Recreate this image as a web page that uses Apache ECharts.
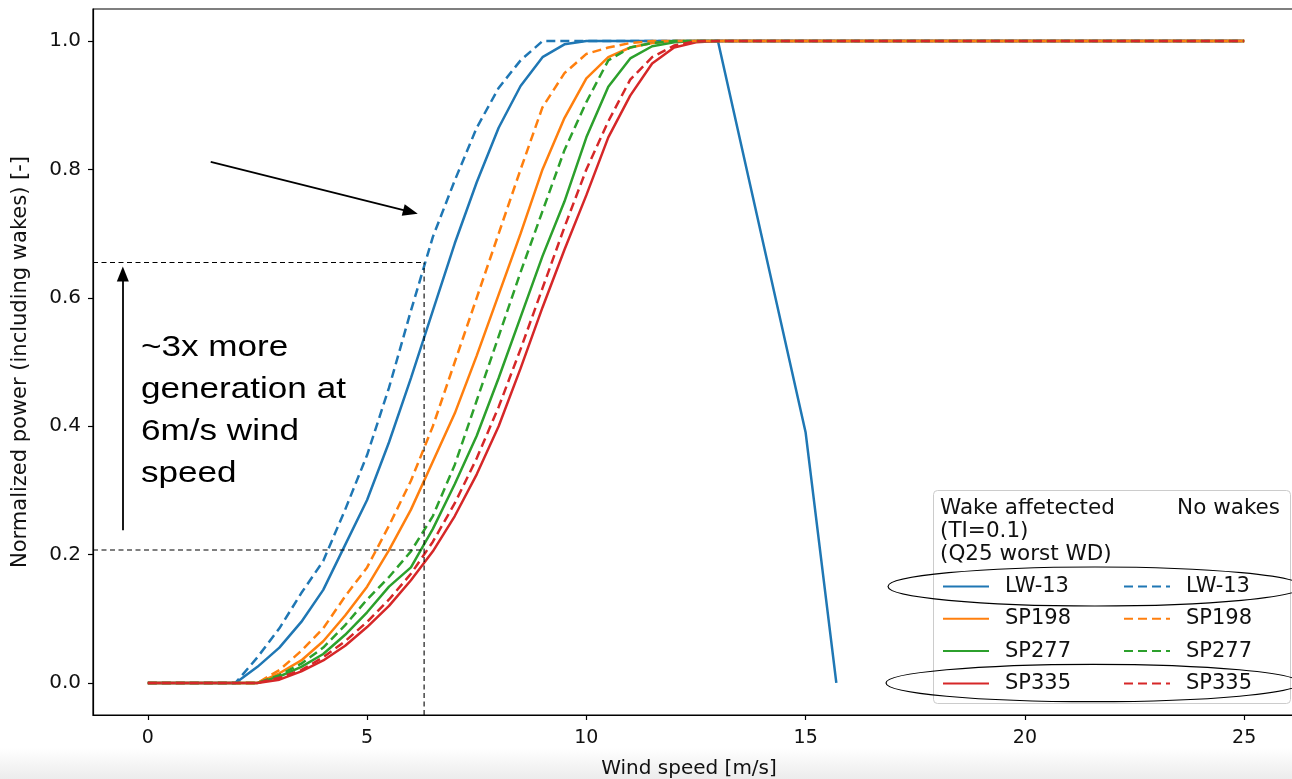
<!DOCTYPE html>
<html><head><meta charset="utf-8">
<script src="https://cdn.jsdelivr.net/npm/echarts@6/dist/echarts.min.js"></script>
<style>html,body{margin:0;padding:0;background:#fff}#chart{width:1292px;height:779px}</style>
</head><body><div id="chart"></div>
<script>
// ---- data ----
const windSpeed = [0,0.5,1,1.5,2,2.5,3,3.5,4,4.5,5,5.5,6,6.5,7,7.5,8,8.5,9,9.5,10,10.5,11,11.5,12,12.5,13,14,15,15.7,16,17,18,19,20,21,22,23,24,25];
const lw13Wake  = [0,0,0,0,0,0.025,0.055,0.095,0.145,0.215,0.285,0.375,0.475,0.58,0.685,0.78,0.865,0.93,0.975,0.995,1,1,1,1,1,1,1,null,0.39,0,null,null,null,null,null,null,null,null,null,null];
const lw13Free  = [0,0,0,0,0,0.04,0.085,0.14,0.19,0.27,0.355,0.46,0.58,0.695,0.783,0.865,0.927,0.97,1,1,1,1,1,1,1,1,1,1,1,1,1,1,1,1,1,1,1,1,1,1];
const sp198Wake = [0,0,0,0,0,0,0.015,0.035,0.065,0.105,0.15,0.207,0.27,0.345,0.42,0.51,0.605,0.70,0.80,0.88,0.942,0.975,0.99,0.997,1,1,1,1,1,1,1,1,1,1,1,1,1,1,1,1];
const sp198Free = [0,0,0,0,0,0,0.02,0.05,0.085,0.135,0.18,0.245,0.315,0.40,0.50,0.60,0.70,0.80,0.897,0.95,0.98,0.99,0.997,1,1,1,1,1,1,1,1,1,1,1,1,1,1,1,1,1];
const sp277Wake = [0,0,0,0,0,0,0.01,0.025,0.045,0.075,0.11,0.15,0.18,0.24,0.31,0.385,0.475,0.57,0.665,0.75,0.85,0.929,0.973,0.992,0.998,1,1,1,1,1,1,1,1,1,1,1,1,1,1,1];
const sp277Free = [0,0,0,0,0,0,0.012,0.03,0.055,0.09,0.13,0.165,0.205,0.26,0.34,0.44,0.54,0.64,0.735,0.83,0.905,0.97,0.99,0.997,1,1,1,1,1,1,1,1,1,1,1,1,1,1,1,1];
const sp335Wake = [0,0,0,0,0,0,0.005,0.018,0.035,0.058,0.087,0.12,0.16,0.205,0.26,0.325,0.40,0.49,0.585,0.675,0.76,0.85,0.915,0.965,0.99,0.998,1,1,1,1,1,1,1,1,1,1,1,1,1,1];
const sp335Free = [0,0,0,0,0,0,0.008,0.02,0.04,0.065,0.095,0.13,0.17,0.22,0.28,0.35,0.43,0.52,0.615,0.71,0.80,0.875,0.94,0.975,0.993,1,1,1,1,1,1,1,1,1,1,1,1,1,1,1];
const turbineNames = ['LW-13','SP198','SP277','SP335'];
const xTicks = [0,5,10,15,20,25];
const yTicks = [0,0.2,0.4,0.6,0.8,1.0];
// annotation values (data units)
const refSpeed = 6.3;
const refLow = 0.207, refHigh = 0.655;
const upArrow = [[-0.57,0.238],[-0.57,0.637]];
const diagArrow = [[1.435,0.812],[5.99,0.734]];

const X_MIN = -1.25, X_MAX = 26.25, Y_MIN = -0.05, Y_MAX = 1.05;
const colors = ['#1f77b4','#ff7f0e','#2ca02c','#d62728'];
const wakeData = [lw13Wake, sp198Wake, sp277Wake, sp335Wake];
const freeData = [lw13Free, sp198Free, sp277Free, sp335Free];
const font = 'DejaVu Sans';

function mk(name, arr, color, dashed, connect) {
  return {
    type: 'line', name, symbol: 'none', connectNulls: !!connect,
    data: windSpeed.map((x, i) => [x, arr[i]]),
    lineStyle: { color, width: 2.5, type: dashed ? [9, 5] : 'solid' },
    itemStyle: { color }, animation: false, silent: true
  };
}
const series = [];
turbineNames.forEach((n, i) => series.push(mk(n + ' wake', wakeData[i], colors[i], false, i === 0)));
turbineNames.forEach((n, i) => series.push(mk(n + ' no wake', freeData[i], colors[i], true, false)));

const annoLine = { color: '#000', width: 1.1, type: [5, 3.5] };
series.push({ type: 'line', symbol: 'none', silent: true, animation: false, lineStyle: annoLine,
  data: [[X_MIN, refHigh], [refSpeed, refHigh]] });
series.push({ type: 'line', symbol: 'none', silent: true, animation: false, lineStyle: annoLine,
  data: [[X_MIN, refLow], [refSpeed, refLow]] });
series.push({ type: 'line', symbol: 'none', silent: true, animation: false, lineStyle: annoLine,
  data: [[refSpeed, Y_MIN], [refSpeed, refHigh]] });
series.push({ type: 'line', data: [], silent: true, animation: false,
  markLine: { silent: true, animation: false, symbol: ['none', 'triangle'], symbolSize: [12, 15],
    label: { show: false }, lineStyle: { color: '#000', width: 1.8, type: 'solid' },
    data: [
      [{ coord: upArrow[0] }, { coord: upArrow[1] }],
      [{ coord: diagArrow[0] }, { coord: diagArrow[1] }]
    ] } });

const chart = echarts.init(document.getElementById('chart'), null, { renderer: 'canvas' });
const legendCommon = {
  orient: 'vertical', top: 576, padding: 0, itemWidth: 46, itemHeight: 14, itemGap: 11.3,
  selectedMode: false, z: 6,
  itemStyle: { color: 'rgba(0,0,0,0)', borderWidth: 0, opacity: 0 },
  formatter: n => n.replace(/ (no )?wake$/, ''),
  textStyle: { fontFamily: font, fontSize: 21, color: '#111', padding: [0, 0, 0, 11] }
};
chart.setOption({
  backgroundColor: '#fff',
  animation: false,
  grid: { left: 93, top: 9, width: 1206, height: 706, outerBoundsMode: 'none', containLabel: false,
    show: true, borderColor: '#000', borderWidth: 1.2, backgroundColor: 'transparent' },
  xAxis: {
    type: 'value', min: X_MIN, max: X_MAX,
    name: 'Wind speed [m/s]', nameLocation: 'middle', nameGap: 44,
    nameTextStyle: { fontFamily: font, fontSize: 20, color: '#111', padding: [0, 14, 0, 0] },
    axisLine: { show: true, onZero: false, lineStyle: { color: '#000', width: 1.2 } },
    axisTick: { show: true, length: 5, lineStyle: { color: '#000', width: 1.2 }, customValues: xTicks },
    axisLabel: { fontFamily: font, fontSize: 19, color: '#111', margin: 14, customValues: xTicks },
    splitLine: { show: false }
  },
  yAxis: {
    type: 'value', min: Y_MIN, max: Y_MAX,
    name: 'Normalized power (including wakes) [-]', nameLocation: 'middle', nameGap: 62,
    nameTextStyle: { fontFamily: font, fontSize: 21, color: '#111' },
    axisLine: { show: true, onZero: false, lineStyle: { color: '#000', width: 1.2 } },
    axisTick: { show: true, length: 5, lineStyle: { color: '#000', width: 1.2 }, customValues: yTicks },
    axisLabel: { fontFamily: font, fontSize: 20, color: '#111', margin: 12, customValues: yTicks,
      formatter: v => v.toFixed(1) },
    splitLine: { show: false }
  },
  legend: [
    Object.assign({}, legendCommon, { left: 942, data: turbineNames.map(n => n + ' wake') }),
    Object.assign({}, legendCommon, { left: 1123, data: turbineNames.map(n => n + ' no wake') })
  ],
  graphic: [
    { type: 'rect', z: -10, silent: true, shape: { x: 0, y: 748, width: 1292, height: 31 },
      style: { fill: new echarts.graphic.LinearGradient(0, 0, 0, 1, [{ offset: 0, color: '#ffffff' }, { offset: 1, color: '#ececec' }]) } },
    { type: 'rect', z: 3, silent: true, shape: { x: 933.5, y: 490.5, width: 357, height: 213, r: 4 },
      style: { fill: 'rgba(255,255,255,0.8)', stroke: '#cccccc', lineWidth: 1 } },
    { type: 'text', z: 60, silent: true, x: 940, y: 508,
      style: { text: 'Wake affetected', font: '21.5px "DejaVu Sans"', fill: '#111', textVerticalAlign: 'middle' } },
    { type: 'text', z: 60, silent: true, x: 1280, y: 508,
      style: { text: 'No wakes', font: '21.5px "DejaVu Sans"', fill: '#111', textAlign: 'right', textVerticalAlign: 'middle' } },
    { type: 'text', z: 60, silent: true, x: 940, y: 531,
      style: { text: '(TI=0.1)', font: '21.5px "DejaVu Sans"', fill: '#111', textVerticalAlign: 'middle' } },
    { type: 'text', z: 60, silent: true, x: 940, y: 554,
      style: { text: '(Q25 worst WD)', font: '21.5px "DejaVu Sans"', fill: '#111', textVerticalAlign: 'middle' } },
    { type: 'ellipse', z: 70, silent: true, shape: { cx: 1095, cy: 586.5, rx: 207, ry: 19.5 },
      style: { fill: 'none', stroke: '#000', lineWidth: 1.2 } },
    { type: 'ellipse', z: 70, silent: true, shape: { cx: 1093, cy: 683, rx: 207, ry: 18.7 },
      style: { fill: 'none', stroke: '#000', lineWidth: 1.2 } },
    { type: 'text', z: 60, silent: true, x: 141, y: 327, scaleX: 1.17,
      style: { text: '~3x more\ngeneration at\n6m/s wind\nspeed', font: '30px "Liberation Sans"', lineHeight: 42, fill: '#000', textVerticalAlign: 'top' } }
  ],
  series
});
</script></body></html>
